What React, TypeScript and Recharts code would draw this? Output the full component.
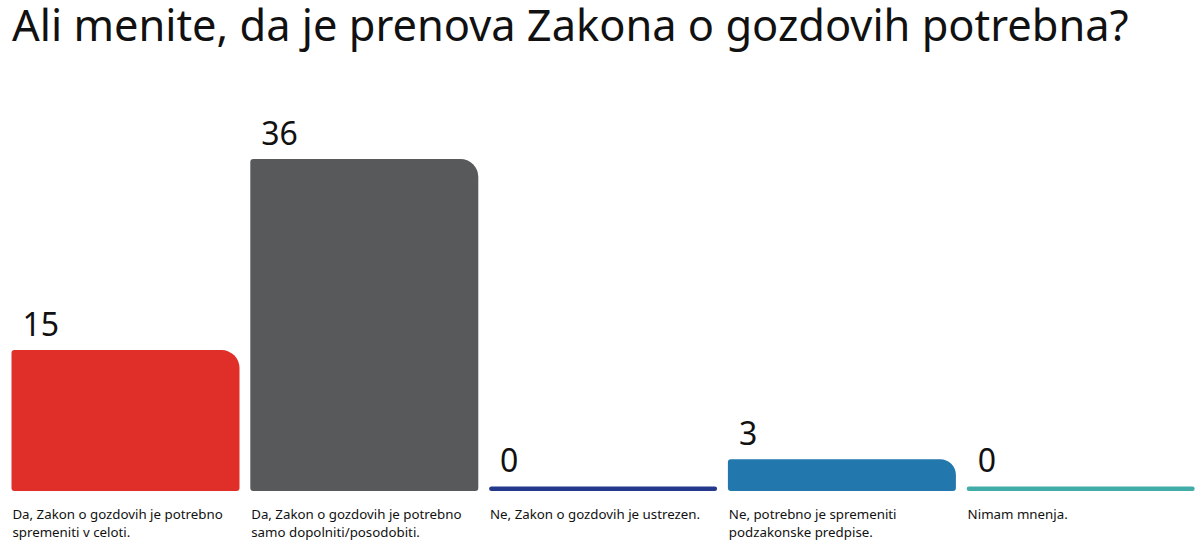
import { BarChart, Bar, XAxis, YAxis, Cell, LabelList } from 'recharts';

// Survey answers, in the order shown on the chart
const categories = [
  'Da, Zakon o gozdovih je potrebno\nspremeniti v celoti.',
  'Da, Zakon o gozdovih je potrebno\nsamo dopolniti/posodobiti.',
  'Ne, Zakon o gozdovih je ustrezen.',
  'Ne, potrebno je spremeniti\npodzakonske predpise.',
  'Nimam mnenja.',
];
const answerCounts = [15, 36, 0, 3, 0];
const barColors = ['#e02f28', '#58595b', '#24398c', '#2277ad', '#41aca8'];

const title = 'Ali menite, da je prenova Zakona o gozdovih potrebna?';

// bars start a little below zero so empty answers still show a thin strip
const FLOOR = -0.5;

const data = categories.map((name, i) => ({ name, value: answerCounts[i] }));

const FONT = '"Noto Sans", "Open Sans", sans-serif';

function CategoryTick({ x, y, payload }: any) {
  const lines = String(payload.value).split('\n');
  return (
    <text x={x - 113} y={y} fontFamily={FONT} fontSize={13.3} fill="#111">
      {lines.map((line, i) => (
        <tspan key={i} x={x - 113} dy={i === 0 ? 28 : 18}>
          {line}
        </tspan>
      ))}
    </text>
  );
}

function ValueLabel({ x, y, value }: any) {
  return (
    <text x={x + 11} y={y - 14} fontFamily={FONT} fontSize={32} fill="#111">
      {value}
    </text>
  );
}

export default function App() {
  return (
    <div style={{ position: 'absolute', left: 0, top: 0, width: 1200, height: 545, background: '#fff' }}>
      <div style={{ position: 'absolute', left: 0, top: 0 }}>
        <BarChart
          width={1200}
          height={545}
          data={data}
          margin={{ top: 159, right: 0, left: 6, bottom: 0 }}
          barCategoryGap={5.5}
        >
          <XAxis
            dataKey="name"
            height={54}
            interval={0}
            axisLine={false}
            tickLine={false}
            tickSize={0}
            tickMargin={0}
            tick={<CategoryTick />}
          />
          <YAxis hide domain={[FLOOR, 36]} />
          <Bar
            dataKey={(d: any) => [FLOOR, d.value]}
            radius={[3, 18, 3, 3]}
            isAnimationActive={false}
          >
            {data.map((_, i) => (
              <Cell key={i} fill={barColors[i]} />
            ))}
            <LabelList dataKey="value" content={<ValueLabel />} />
          </Bar>
        </BarChart>
      </div>
      <div
        style={{
          position: 'absolute',
          left: 12,
          top: 0,
          fontFamily: FONT,
          fontSize: 43.4,
          lineHeight: '50px',
          color: '#111',
          whiteSpace: 'nowrap',
        }}
      >
        {title}
      </div>
    </div>
  );
}
